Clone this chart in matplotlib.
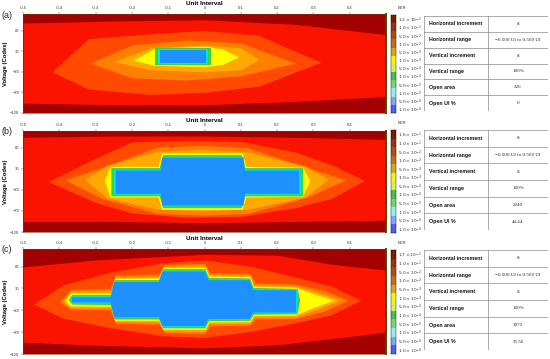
#!/usr/bin/env python3

import numpy as np
import matplotlib
matplotlib.use("Agg")
from matplotlib import pyplot as plt
from matplotlib.colors import ListedColormap

W, H = 550, 359

# contour colours, outer (high BER) to inner (eye opening)
LEVEL_COLORS = ["#a30000", "#fa1400", "#ff4a00", "#ff7f00", "#ffaa00",
                "#ffd400", "#ffff00", "#aaf000", "#3cd23c", "#00e6e6", "#1e90ff"]

# colour bar blocks from top to bottom
CB_COLORS = ["#7a1e00", "#9a3410", "#b04c10", "#c87010", "#d8a418", "#f8f400",
             "#d4f440", "#48c048", "#70d870", "#90f0f0", "#78a8ff", "#4a62f0"]
CB_MANT = [["1.2", "1.0", "5.0", "1.0", "5.0", "1.0", "5.0", "1.0", "5.0", "1.0", "5.0", "1.0"],
           ["1.6", "1.0", "5.0", "1.0", "5.0", "1.0", "5.0", "1.0", "5.0", "1.0", "5.0", "1.0"],
           ["1.7", "1.0", "5.0", "1.0", "5.0", "1.0", "5.0", "1.0", "5.0", "1.0", "5.0", "1.0"]]
CB_EXP = [-1, -1, -2, -2, -3, -3, -4, -4, -5, -5, -6, -6]

X_TICKS = [-0.5, -0.4, -0.3, -0.2, -0.1, 0, 0.1, 0.2, 0.3, 0.4]
Y_TICKS = [-120, -70, -20, 30, 80]

# (level, x, upper, lower) rings
RINGS_A = [
    (1, [-0.5, -0.25, 0.0, 0.25, 0.5], [98, 103, 106, 95, 70], [-96, -100, -100, -92, -80]),
    (2, [-0.42, -0.32, -0.15, 0.0, 0.15, 0.32], [-20, 60, 72, 80, 68, 3], [-20, -62, -75, -70, -55, 3]),
    (3, [-0.315, -0.2, -0.05, 0.1, 0.25], [1, 45, 57, 50, 1], [1, -35, -40, -30, 1]),
    (4, [-0.25, -0.15, 0.0, 0.1, 0.15], [5, 38, 45, 38, 10], [5, -15, -20, -15, 10]),
    (6, [-0.196, -0.14, 0.0, 0.05, 0.094], [8, 36, 42, 35, 16], [8, -4, -8, -2, 16]),
    (8, [-0.137, 0.017], [38, 38], [-3, -3]),
    (9, [-0.127, 0.01], [34, 34], [0, 0]),
    (10, [-0.122, 0.005], [32, 32], [2, 2]),
]

RINGS_B = [
    (1, [-0.5, -0.25, 0.0, 0.25, 0.5], [105, 108, 108, 105, 100], [-95, -95, -98, -95, -92]),
    (2, [-0.43, -0.3, -0.2, -0.05, 0.1, 0.25, 0.35, 0.44], [0, 55, 94, 98, 95, 70, 40, 2],
     [0, -50, -75, -85, -83, -62, -40, 2]),
    (3, [-0.384, -0.287, -0.13, 0.0, 0.12, 0.28, 0.39], [4, 32, 82, 86, 80, 34, 4],
     [4, -39, -76, -80, -76, -38, 4]),
    (4, [-0.33, -0.27, -0.13, 0.0, 0.12, 0.28, 0.34], [5, 38, 72, 76, 70, 36, 5],
     [5, -38, -66, -70, -66, -36, 5]),
    (6, [-0.276, -0.26, -0.128, -0.118, 0.104, 0.114, 0.27, 0.29], [2, 36, 36, 68, 68, 36, 34, 2],
     [2, -37, -37, -66, -66, -37, -35, 2]),
    (8, [-0.258, -0.125, -0.115, 0.101, 0.111, 0.27], [33, 33, 64, 64, 33, 33],
     [-34, -34, -62, -62, -34, -34]),
    (9, [-0.251, -0.123, -0.117, 0.105, 0.111, 0.264], [29, 29, 60, 60, 29, 29],
     [-30, -30, -58, -58, -30, -30]),
    (10, [-0.246, -0.122, -0.118, 0.106, 0.110, 0.26], [27, 27, 58, 58, 27, 27],
     [-28, -28, -56, -56, -28, -28]),
]

RINGS_C = [
    (1, [-0.5, -0.3, 0.0, 0.2, 0.35, 0.5], [79, 95, 108, 106, 85, 72], [-93, -100, -106, -99, -85, -70]),
    (2, [-0.47, -0.39, -0.26, -0.12, 0.0, 0.13, 0.26, 0.35, 0.43], [-6, 38, 67, 88, 95, 80, 54, 35, 3],
     [-6, -38, -60, -78, -82, -68, -47, -30, 3]),
    (3, [-0.40, -0.37, -0.26, -0.245, -0.125, -0.11, 0.0, 0.015, 0.125, 0.14, 0.25, 0.33, 0.395],
     [0, 27, 30, 61, 63, 85, 87, 66, 64, 42, 40, 25, 3],
     [0, -18, -19, -50, -52, -71, -73, -56, -54, -40, -39, -22, 3]),
    (4, [-0.39, -0.37, -0.257, -0.247, -0.126, -0.113, 0.003, 0.013, 0.126, 0.136, 0.25, 0.31, 0.375],
     [1, 23, 25, 57, 58, 81, 82, 62, 60, 38, 36, 22, 3],
     [1, -14, -15, -46, -47, -67, -68, -51, -50, -36, -35, -18, 3]),
    (6, [-0.385, -0.37, -0.258, -0.248, -0.126, -0.115, 0.002, 0.012, 0.125, 0.135, 0.25, 0.30, 0.356],
     [3, 19, 20, 53, 54, 78, 78, 58, 57, 35, 33, 18, 3],
     [3, -10, -11, -43, -43, -63, -64, -47, -46, -32, -31, -14, 3]),
    (8, [-0.375, -0.365, -0.259, -0.249, -0.126, -0.116, 0.001, 0.011, 0.124, 0.134, 0.255, 0.262],
     [5, 16, 16, 50, 50, 75, 75, 55, 54, 32, 30, 4],
     [5, -6, -7, -40, -40, -60, -60, -44, -43, -29, -28, 4]),
    (9, [-0.37, -0.26, -0.25, -0.127, -0.117, 0.0, 0.01, 0.123, 0.133, 0.255],
     [13, 13, 48, 48, 72, 72, 52, 52, 29, 29],
     [-3, -3, -37, -37, -57, -57, -41, -41, -26, -26]),
    (10, [-0.367, -0.26, -0.25, -0.127, -0.117, 0.0, 0.01, 0.123, 0.133, 0.251],
     [11, 11, 46, 46, 70, 70, 50, 50, 27, 27],
     [-1, -1, -35, -35, -55, -55, -39, -39, -24, -24]),
]

TABLE_LABELS = ["Horizontal increment", "Horizontal range", "Vertical increment",
                "Vertical range", "Open area", "Open UI %"]
OPEN_AREA = ["320", "2240", "3072"]
OPEN_UI = ["0", "44.44", "55.56"]
PANEL_TAGS = ["(a)", "(b)", "(c)"]

PLOT_BOX = [(23, 14, 386, 113), (23, 131, 386, 232), (23, 249, 386, 354)]
CB_BOX = [(391, 15, 396, 113), (391, 130, 396, 233), (391, 250, 396, 354)]
TABLE_BOX = [(424, 16, 548, 111), (424, 130, 548, 230), (424, 250, 548, 350)]


def box(l, t, r, b):
    return [l / W, 1 - b / H, (r - l) / W, (b - t) / H]


def draw_eye(fig, rect, rings):
    ax = fig.add_axes(box(*rect))
    ax.set_facecolor(LEVEL_COLORS[0])
    for level, xs, up, lo in rings:
        ax.fill_between(xs, lo, up, color=LEVEL_COLORS[level], lw=0)
    ax.set_xlim(-0.5, 0.5)
    ax.set_ylim(-120, 120)
    ax.xaxis.tick_top()
    ax.xaxis.set_label_position("top")
    ax.set_xticks(X_TICKS)
    ax.set_xticklabels([f"{t:g}" for t in X_TICKS])
    ax.set_yticks(Y_TICKS)
    ax.tick_params(labelsize=3, length=1.2, width=0.3, pad=1.5, colors="#333333")
    ax.set_xlabel("Unit Interval", fontsize=4.6, fontweight="bold", labelpad=0.8)
    ax.set_ylabel("Voltage (Codes)", fontsize=4.2, fontweight="bold", labelpad=1.5)
    for s in ax.spines.values():
        s.set_linewidth(0.4)
        s.set_color("#6a3a00")
    ax.spines["right"].set_linewidth(1.4)
    ax.spines["right"].set_color("#4a4a00")
    return ax


def draw_colorbar(fig, rect, mant):
    ax = fig.add_axes(box(*rect))
    ax.imshow(np.arange(12)[:, None], cmap=ListedColormap(CB_COLORS), aspect="auto",
              extent=(0, 1, 11.5, -0.5))
    ax.set_xticks([])
    ax.yaxis.tick_right()
    ax.set_yticks(range(12))
    ax.set_yticklabels([rf"${m}\times10^{{{e}}}$" for m, e in zip(mant, CB_EXP)])
    ax.tick_params(labelsize=3.2, length=0, pad=1.2, colors="#333333")
    for s in ax.spines.values():
        s.set_linewidth(0.3)
    ax.text(1.4, 1.05, "BER", transform=ax.transAxes, fontsize=3.0, color="#333333",
            va="bottom", ha="left")


def draw_table(fig, rect, area, open_ui):
    ax = fig.add_axes(box(*rect))
    ax.set_xlim(0, 1)
    ax.set_ylim(6, 0)
    ax.axis("off")
    split = (488 - 424) / (548 - 424)
    for i in range(7):
        ax.plot([0, 1], [i, i], color="#8a8a8a", lw=0.5)
    for x in [0, split, 1]:
        ax.plot([x, x], [0, 6], color="#8a8a8a", lw=0.5)
    values = ["8", "\u22120.500 UI to 0.500 UI", "8", "100%", area, open_ui]
    for i, (lab, val) in enumerate(zip(TABLE_LABELS, values)):
        ax.text(0.04, i + 0.5, lab, fontsize=3.8, fontweight="bold", va="center",
                ha="left", color="#111111")
        ax.text((split + 1) / 2, i + 0.5, val, fontsize=3.6, va="center", ha="center",
                family="Liberation Serif", color="#222222")


def main():
    plt.rcParams["font.family"] = ["Liberation Sans", "DejaVu Sans"]
    fig = plt.figure(figsize=(W / 100, H / 100), dpi=100)
    for k, rings in enumerate([RINGS_A, RINGS_B, RINGS_C]):
        draw_eye(fig, PLOT_BOX[k], rings)
        draw_colorbar(fig, CB_BOX[k], CB_MANT[k])
        draw_table(fig, TABLE_BOX[k], OPEN_AREA[k], OPEN_UI[k])
        fig.text(2 / W, 1 - (PLOT_BOX[k][1] + 1) / H, PANEL_TAGS[k], fontsize=6.5,
                 va="center", ha="left", color="#222222")
    fig.savefig("out.png", dpi=100)


if __name__ == "__main__":
    main()
